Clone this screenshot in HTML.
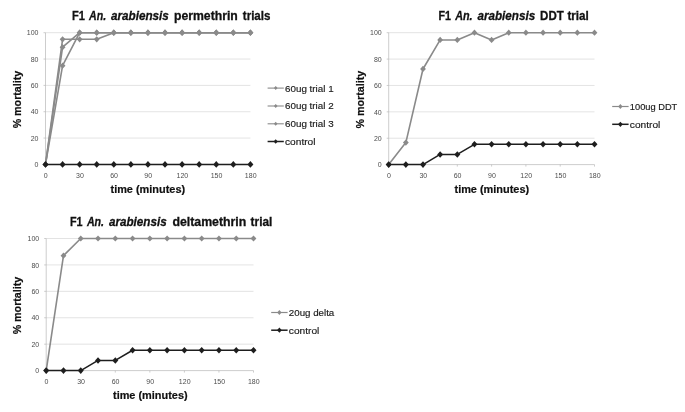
<!DOCTYPE html>
<html lang="en">
<head>
<meta charset="utf-8">
<title>F1 An. arabiensis insecticide trials</title>
<style>
html,body{margin:0;padding:0;background:#fff;}
body{width:685px;height:412px;overflow:hidden;}
svg{display:block;filter:blur(0.35px);}
text{font-family:"Liberation Sans",sans-serif;}
.tt{font-size:12.5px;font-weight:bold;fill:#111;stroke:#111;stroke-width:0.3px;}
.it{font-style:italic;}
.ax{font-size:11px;font-weight:bold;fill:#111;stroke:#111;stroke-width:0.2px;}
.tk{font-size:7px;fill:#4d4d4d;}
.lg{font-size:9px;fill:#1a1a1a;stroke:#1a1a1a;stroke-width:0.15px;}
</style>
</head>
<body>
<svg width="685" height="412" viewBox="0 0 685 412">
<rect width="685" height="412" fill="#fff"/>
<g id="chart-permethrin">
<line x1="45.5" x2="250.4" y1="138.06" y2="138.06" stroke="#d4d4d4" stroke-width="0.65"/>
<line x1="45.5" x2="250.4" y1="111.72" y2="111.72" stroke="#d4d4d4" stroke-width="0.65"/>
<line x1="45.5" x2="250.4" y1="85.38" y2="85.38" stroke="#d4d4d4" stroke-width="0.65"/>
<line x1="45.5" x2="250.4" y1="59.04" y2="59.04" stroke="#d4d4d4" stroke-width="0.65"/>
<line x1="45.5" x2="250.4" y1="32.7" y2="32.7" stroke="#d4d4d4" stroke-width="0.65"/>
<line x1="45.5" x2="45.5" y1="32.7" y2="164.4" stroke="#b8b8b8" stroke-width="0.7"/>
<line x1="43.5" x2="250.4" y1="164.4" y2="164.4" stroke="#b8b8b8" stroke-width="0.7"/>
<line x1="43.5" x2="45.5" y1="164.4" y2="164.4" stroke="#b8b8b8" stroke-width="0.7"/>
<text class="tk" x="38.5" y="167.1" text-anchor="end">0</text>
<line x1="43.5" x2="45.5" y1="138.06" y2="138.06" stroke="#b8b8b8" stroke-width="0.7"/>
<text class="tk" x="38.5" y="140.76" text-anchor="end">20</text>
<line x1="43.5" x2="45.5" y1="111.72" y2="111.72" stroke="#b8b8b8" stroke-width="0.7"/>
<text class="tk" x="38.5" y="114.42" text-anchor="end">40</text>
<line x1="43.5" x2="45.5" y1="85.38" y2="85.38" stroke="#b8b8b8" stroke-width="0.7"/>
<text class="tk" x="38.5" y="88.08" text-anchor="end">60</text>
<line x1="43.5" x2="45.5" y1="59.04" y2="59.04" stroke="#b8b8b8" stroke-width="0.7"/>
<text class="tk" x="38.5" y="61.74" text-anchor="end">80</text>
<line x1="43.5" x2="45.5" y1="32.7" y2="32.7" stroke="#b8b8b8" stroke-width="0.7"/>
<text class="tk" x="38.5" y="35.4" text-anchor="end">100</text>
<line x1="45.5" x2="45.5" y1="164.4" y2="166.4" stroke="#b8b8b8" stroke-width="0.7"/>
<text class="tk" x="45.8" y="177.5" text-anchor="middle">0</text>
<line x1="79.65" x2="79.65" y1="164.4" y2="166.4" stroke="#b8b8b8" stroke-width="0.7"/>
<text class="tk" x="79.95" y="177.5" text-anchor="middle">30</text>
<line x1="113.8" x2="113.8" y1="164.4" y2="166.4" stroke="#b8b8b8" stroke-width="0.7"/>
<text class="tk" x="114.1" y="177.5" text-anchor="middle">60</text>
<line x1="147.95" x2="147.95" y1="164.4" y2="166.4" stroke="#b8b8b8" stroke-width="0.7"/>
<text class="tk" x="148.25" y="177.5" text-anchor="middle">90</text>
<line x1="182.1" x2="182.1" y1="164.4" y2="166.4" stroke="#b8b8b8" stroke-width="0.7"/>
<text class="tk" x="182.4" y="177.5" text-anchor="middle">120</text>
<line x1="216.25" x2="216.25" y1="164.4" y2="166.4" stroke="#b8b8b8" stroke-width="0.7"/>
<text class="tk" x="216.55" y="177.5" text-anchor="middle">150</text>
<line x1="250.4" x2="250.4" y1="164.4" y2="166.4" stroke="#b8b8b8" stroke-width="0.7"/>
<text class="tk" x="250.7" y="177.5" text-anchor="middle">180</text>
<polyline points="45.5,164.4 62.58,65.63 79.65,32.7 96.72,32.7 113.8,32.7 130.88,32.7 147.95,32.7 165.02,32.7 182.1,32.7 199.17,32.7 216.25,32.7 233.32,32.7 250.4,32.7" fill="none" stroke="#8a8a8a" stroke-width="1.6" stroke-linejoin="round"/>
<path d="M45.5 161.3L48.4 164.4L45.5 167.5L42.6 164.4Z" fill="#8a8a8a"/>
<path d="M62.58 62.53L65.48 65.63L62.58 68.73L59.68 65.63Z" fill="#8a8a8a"/>
<path d="M79.65 29.6L82.55 32.7L79.65 35.8L76.75 32.7Z" fill="#8a8a8a"/>
<path d="M96.72 29.6L99.62 32.7L96.72 35.8L93.82 32.7Z" fill="#8a8a8a"/>
<path d="M113.8 29.6L116.7 32.7L113.8 35.8L110.9 32.7Z" fill="#8a8a8a"/>
<path d="M130.88 29.6L133.78 32.7L130.88 35.8L127.97 32.7Z" fill="#8a8a8a"/>
<path d="M147.95 29.6L150.85 32.7L147.95 35.8L145.05 32.7Z" fill="#8a8a8a"/>
<path d="M165.02 29.6L167.92 32.7L165.02 35.8L162.12 32.7Z" fill="#8a8a8a"/>
<path d="M182.1 29.6L185 32.7L182.1 35.8L179.2 32.7Z" fill="#8a8a8a"/>
<path d="M199.17 29.6L202.07 32.7L199.17 35.8L196.27 32.7Z" fill="#8a8a8a"/>
<path d="M216.25 29.6L219.15 32.7L216.25 35.8L213.35 32.7Z" fill="#8a8a8a"/>
<path d="M233.32 29.6L236.22 32.7L233.32 35.8L230.42 32.7Z" fill="#8a8a8a"/>
<path d="M250.4 29.6L253.3 32.7L250.4 35.8L247.5 32.7Z" fill="#8a8a8a"/>
<polyline points="45.5,164.4 62.58,39.29 79.65,39.29 96.72,39.29 113.8,32.7 130.88,32.7 147.95,32.7 165.02,32.7 182.1,32.7 199.17,32.7 216.25,32.7 233.32,32.7 250.4,32.7" fill="none" stroke="#8a8a8a" stroke-width="1.6" stroke-linejoin="round"/>
<path d="M45.5 161.3L48.4 164.4L45.5 167.5L42.6 164.4Z" fill="#8a8a8a"/>
<path d="M62.58 36.19L65.48 39.29L62.58 42.39L59.68 39.29Z" fill="#8a8a8a"/>
<path d="M79.65 36.19L82.55 39.29L79.65 42.39L76.75 39.29Z" fill="#8a8a8a"/>
<path d="M96.72 36.19L99.62 39.29L96.72 42.39L93.82 39.29Z" fill="#8a8a8a"/>
<path d="M113.8 29.6L116.7 32.7L113.8 35.8L110.9 32.7Z" fill="#8a8a8a"/>
<path d="M130.88 29.6L133.78 32.7L130.88 35.8L127.97 32.7Z" fill="#8a8a8a"/>
<path d="M147.95 29.6L150.85 32.7L147.95 35.8L145.05 32.7Z" fill="#8a8a8a"/>
<path d="M165.02 29.6L167.92 32.7L165.02 35.8L162.12 32.7Z" fill="#8a8a8a"/>
<path d="M182.1 29.6L185 32.7L182.1 35.8L179.2 32.7Z" fill="#8a8a8a"/>
<path d="M199.17 29.6L202.07 32.7L199.17 35.8L196.27 32.7Z" fill="#8a8a8a"/>
<path d="M216.25 29.6L219.15 32.7L216.25 35.8L213.35 32.7Z" fill="#8a8a8a"/>
<path d="M233.32 29.6L236.22 32.7L233.32 35.8L230.42 32.7Z" fill="#8a8a8a"/>
<path d="M250.4 29.6L253.3 32.7L250.4 35.8L247.5 32.7Z" fill="#8a8a8a"/>
<polyline points="45.5,164.4 62.58,47.19 79.65,32.7 96.72,32.7 113.8,32.7 130.88,32.7 147.95,32.7 165.02,32.7 182.1,32.7 199.17,32.7 216.25,32.7 233.32,32.7 250.4,32.7" fill="none" stroke="#8a8a8a" stroke-width="1.6" stroke-linejoin="round"/>
<path d="M45.5 161.3L48.4 164.4L45.5 167.5L42.6 164.4Z" fill="#8a8a8a"/>
<path d="M62.58 44.09L65.48 47.19L62.58 50.29L59.68 47.19Z" fill="#8a8a8a"/>
<path d="M79.65 29.6L82.55 32.7L79.65 35.8L76.75 32.7Z" fill="#8a8a8a"/>
<path d="M96.72 29.6L99.62 32.7L96.72 35.8L93.82 32.7Z" fill="#8a8a8a"/>
<path d="M113.8 29.6L116.7 32.7L113.8 35.8L110.9 32.7Z" fill="#8a8a8a"/>
<path d="M130.88 29.6L133.78 32.7L130.88 35.8L127.97 32.7Z" fill="#8a8a8a"/>
<path d="M147.95 29.6L150.85 32.7L147.95 35.8L145.05 32.7Z" fill="#8a8a8a"/>
<path d="M165.02 29.6L167.92 32.7L165.02 35.8L162.12 32.7Z" fill="#8a8a8a"/>
<path d="M182.1 29.6L185 32.7L182.1 35.8L179.2 32.7Z" fill="#8a8a8a"/>
<path d="M199.17 29.6L202.07 32.7L199.17 35.8L196.27 32.7Z" fill="#8a8a8a"/>
<path d="M216.25 29.6L219.15 32.7L216.25 35.8L213.35 32.7Z" fill="#8a8a8a"/>
<path d="M233.32 29.6L236.22 32.7L233.32 35.8L230.42 32.7Z" fill="#8a8a8a"/>
<path d="M250.4 29.6L253.3 32.7L250.4 35.8L247.5 32.7Z" fill="#8a8a8a"/>
<polyline points="45.5,164.4 62.58,164.4 79.65,164.4 96.72,164.4 113.8,164.4 130.88,164.4 147.95,164.4 165.02,164.4 182.1,164.4 199.17,164.4 216.25,164.4 233.32,164.4 250.4,164.4" fill="none" stroke="#1e1e1e" stroke-width="1.5" stroke-linejoin="round"/>
<path d="M45.5 161.1L48.5 164.4L45.5 167.7L42.5 164.4Z" fill="#1e1e1e"/>
<path d="M62.58 161.1L65.58 164.4L62.58 167.7L59.58 164.4Z" fill="#1e1e1e"/>
<path d="M79.65 161.1L82.65 164.4L79.65 167.7L76.65 164.4Z" fill="#1e1e1e"/>
<path d="M96.72 161.1L99.72 164.4L96.72 167.7L93.72 164.4Z" fill="#1e1e1e"/>
<path d="M113.8 161.1L116.8 164.4L113.8 167.7L110.8 164.4Z" fill="#1e1e1e"/>
<path d="M130.88 161.1L133.88 164.4L130.88 167.7L127.88 164.4Z" fill="#1e1e1e"/>
<path d="M147.95 161.1L150.95 164.4L147.95 167.7L144.95 164.4Z" fill="#1e1e1e"/>
<path d="M165.02 161.1L168.02 164.4L165.02 167.7L162.02 164.4Z" fill="#1e1e1e"/>
<path d="M182.1 161.1L185.1 164.4L182.1 167.7L179.1 164.4Z" fill="#1e1e1e"/>
<path d="M199.17 161.1L202.17 164.4L199.17 167.7L196.17 164.4Z" fill="#1e1e1e"/>
<path d="M216.25 161.1L219.25 164.4L216.25 167.7L213.25 164.4Z" fill="#1e1e1e"/>
<path d="M233.32 161.1L236.32 164.4L233.32 167.7L230.32 164.4Z" fill="#1e1e1e"/>
<path d="M250.4 161.1L253.4 164.4L250.4 167.7L247.4 164.4Z" fill="#1e1e1e"/>
<text class="tt" x="72.1" y="19.6" textLength="12.9" lengthAdjust="spacingAndGlyphs">F1</text>
<text class="tt it" x="89" y="19.6" textLength="17.1" lengthAdjust="spacingAndGlyphs">An.</text>
<text class="tt it" x="111" y="19.6" textLength="57.8" lengthAdjust="spacingAndGlyphs">arabiensis</text>
<text class="tt" x="174" y="19.6" textLength="63.8" lengthAdjust="spacingAndGlyphs">permethrin</text>
<text class="tt" x="242.8" y="19.6" textLength="27.6" lengthAdjust="spacingAndGlyphs">trials</text>
<text class="ax" x="110.5" y="193.1" textLength="74.6" lengthAdjust="spacingAndGlyphs">time (minutes)</text>
<text class="ax" transform="translate(21.4 128.35) rotate(-90)" textLength="57.6" lengthAdjust="spacingAndGlyphs">% mortality</text>
<line x1="267.6" x2="283.8" y1="88.1" y2="88.1" stroke="#8a8a8a" stroke-width="1.1"/>
<path d="M275.7 86.1L277.5 88.1L275.7 90.1L273.9 88.1Z" fill="#8a8a8a"/>
<text class="lg" x="285" y="91.5" textLength="48.6" lengthAdjust="spacingAndGlyphs">60ug trial 1</text>
<line x1="267.6" x2="283.8" y1="106" y2="106" stroke="#8a8a8a" stroke-width="1.1"/>
<path d="M275.7 104L277.5 106L275.7 108L273.9 106Z" fill="#8a8a8a"/>
<text class="lg" x="285" y="109.4" textLength="48.6" lengthAdjust="spacingAndGlyphs">60ug trial 2</text>
<line x1="267.6" x2="283.8" y1="123.8" y2="123.8" stroke="#8a8a8a" stroke-width="1.1"/>
<path d="M275.7 121.8L277.5 123.8L275.7 125.8L273.9 123.8Z" fill="#8a8a8a"/>
<text class="lg" x="285" y="127.2" textLength="48.6" lengthAdjust="spacingAndGlyphs">60ug trial 3</text>
<line x1="267.6" x2="283.8" y1="141.5" y2="141.5" stroke="#1e1e1e" stroke-width="1.5"/>
<path d="M275.7 139.2L277.8 141.5L275.7 143.8L273.6 141.5Z" fill="#1e1e1e"/>
<text class="lg" x="285" y="144.9" textLength="30.5" lengthAdjust="spacingAndGlyphs">control</text>
</g>
<g id="chart-ddt">
<line x1="388.7" x2="594.5" y1="138.22" y2="138.22" stroke="#d4d4d4" stroke-width="0.65"/>
<line x1="388.7" x2="594.5" y1="111.84" y2="111.84" stroke="#d4d4d4" stroke-width="0.65"/>
<line x1="388.7" x2="594.5" y1="85.46" y2="85.46" stroke="#d4d4d4" stroke-width="0.65"/>
<line x1="388.7" x2="594.5" y1="59.08" y2="59.08" stroke="#d4d4d4" stroke-width="0.65"/>
<line x1="388.7" x2="594.5" y1="32.7" y2="32.7" stroke="#d4d4d4" stroke-width="0.65"/>
<line x1="388.7" x2="388.7" y1="32.7" y2="164.6" stroke="#b8b8b8" stroke-width="0.7"/>
<line x1="386.7" x2="594.5" y1="164.6" y2="164.6" stroke="#b8b8b8" stroke-width="0.7"/>
<line x1="386.7" x2="388.7" y1="164.6" y2="164.6" stroke="#b8b8b8" stroke-width="0.7"/>
<text class="tk" x="381.7" y="167.3" text-anchor="end">0</text>
<line x1="386.7" x2="388.7" y1="138.22" y2="138.22" stroke="#b8b8b8" stroke-width="0.7"/>
<text class="tk" x="381.7" y="140.92" text-anchor="end">20</text>
<line x1="386.7" x2="388.7" y1="111.84" y2="111.84" stroke="#b8b8b8" stroke-width="0.7"/>
<text class="tk" x="381.7" y="114.54" text-anchor="end">40</text>
<line x1="386.7" x2="388.7" y1="85.46" y2="85.46" stroke="#b8b8b8" stroke-width="0.7"/>
<text class="tk" x="381.7" y="88.16" text-anchor="end">60</text>
<line x1="386.7" x2="388.7" y1="59.08" y2="59.08" stroke="#b8b8b8" stroke-width="0.7"/>
<text class="tk" x="381.7" y="61.78" text-anchor="end">80</text>
<line x1="386.7" x2="388.7" y1="32.7" y2="32.7" stroke="#b8b8b8" stroke-width="0.7"/>
<text class="tk" x="381.7" y="35.4" text-anchor="end">100</text>
<line x1="388.7" x2="388.7" y1="164.6" y2="166.6" stroke="#b8b8b8" stroke-width="0.7"/>
<text class="tk" x="389" y="177.7" text-anchor="middle">0</text>
<line x1="423" x2="423" y1="164.6" y2="166.6" stroke="#b8b8b8" stroke-width="0.7"/>
<text class="tk" x="423.3" y="177.7" text-anchor="middle">30</text>
<line x1="457.3" x2="457.3" y1="164.6" y2="166.6" stroke="#b8b8b8" stroke-width="0.7"/>
<text class="tk" x="457.6" y="177.7" text-anchor="middle">60</text>
<line x1="491.6" x2="491.6" y1="164.6" y2="166.6" stroke="#b8b8b8" stroke-width="0.7"/>
<text class="tk" x="491.9" y="177.7" text-anchor="middle">90</text>
<line x1="525.9" x2="525.9" y1="164.6" y2="166.6" stroke="#b8b8b8" stroke-width="0.7"/>
<text class="tk" x="526.2" y="177.7" text-anchor="middle">120</text>
<line x1="560.2" x2="560.2" y1="164.6" y2="166.6" stroke="#b8b8b8" stroke-width="0.7"/>
<text class="tk" x="560.5" y="177.7" text-anchor="middle">150</text>
<line x1="594.5" x2="594.5" y1="164.6" y2="166.6" stroke="#b8b8b8" stroke-width="0.7"/>
<text class="tk" x="594.8" y="177.7" text-anchor="middle">180</text>
<polyline points="388.7,164.6 405.85,142.57 423,68.97 440.15,39.95 457.3,39.95 474.45,32.7 491.6,39.95 508.75,32.7 525.9,32.7 543.05,32.7 560.2,32.7 577.35,32.7 594.5,32.7" fill="none" stroke="#8a8a8a" stroke-width="1.6" stroke-linejoin="round"/>
<path d="M388.7 161.5L391.6 164.6L388.7 167.7L385.8 164.6Z" fill="#8a8a8a"/>
<path d="M405.85 139.47L408.75 142.57L405.85 145.67L402.95 142.57Z" fill="#8a8a8a"/>
<path d="M423 65.87L425.9 68.97L423 72.07L420.1 68.97Z" fill="#8a8a8a"/>
<path d="M440.15 36.85L443.05 39.95L440.15 43.05L437.25 39.95Z" fill="#8a8a8a"/>
<path d="M457.3 36.85L460.2 39.95L457.3 43.05L454.4 39.95Z" fill="#8a8a8a"/>
<path d="M474.45 29.6L477.35 32.7L474.45 35.8L471.55 32.7Z" fill="#8a8a8a"/>
<path d="M491.6 36.85L494.5 39.95L491.6 43.05L488.7 39.95Z" fill="#8a8a8a"/>
<path d="M508.75 29.6L511.65 32.7L508.75 35.8L505.85 32.7Z" fill="#8a8a8a"/>
<path d="M525.9 29.6L528.8 32.7L525.9 35.8L523 32.7Z" fill="#8a8a8a"/>
<path d="M543.05 29.6L545.95 32.7L543.05 35.8L540.15 32.7Z" fill="#8a8a8a"/>
<path d="M560.2 29.6L563.1 32.7L560.2 35.8L557.3 32.7Z" fill="#8a8a8a"/>
<path d="M577.35 29.6L580.25 32.7L577.35 35.8L574.45 32.7Z" fill="#8a8a8a"/>
<path d="M594.5 29.6L597.4 32.7L594.5 35.8L591.6 32.7Z" fill="#8a8a8a"/>
<polyline points="388.7,164.6 405.85,164.6 423,164.6 440.15,154.44 457.3,154.44 474.45,144.29 491.6,144.29 508.75,144.29 525.9,144.29 543.05,144.29 560.2,144.29 577.35,144.29 594.5,144.29" fill="none" stroke="#1e1e1e" stroke-width="1.5" stroke-linejoin="round"/>
<path d="M388.7 161.3L391.7 164.6L388.7 167.9L385.7 164.6Z" fill="#1e1e1e"/>
<path d="M405.85 161.3L408.85 164.6L405.85 167.9L402.85 164.6Z" fill="#1e1e1e"/>
<path d="M423 161.3L426 164.6L423 167.9L420 164.6Z" fill="#1e1e1e"/>
<path d="M440.15 151.14L443.15 154.44L440.15 157.74L437.15 154.44Z" fill="#1e1e1e"/>
<path d="M457.3 151.14L460.3 154.44L457.3 157.74L454.3 154.44Z" fill="#1e1e1e"/>
<path d="M474.45 140.99L477.45 144.29L474.45 147.59L471.45 144.29Z" fill="#1e1e1e"/>
<path d="M491.6 140.99L494.6 144.29L491.6 147.59L488.6 144.29Z" fill="#1e1e1e"/>
<path d="M508.75 140.99L511.75 144.29L508.75 147.59L505.75 144.29Z" fill="#1e1e1e"/>
<path d="M525.9 140.99L528.9 144.29L525.9 147.59L522.9 144.29Z" fill="#1e1e1e"/>
<path d="M543.05 140.99L546.05 144.29L543.05 147.59L540.05 144.29Z" fill="#1e1e1e"/>
<path d="M560.2 140.99L563.2 144.29L560.2 147.59L557.2 144.29Z" fill="#1e1e1e"/>
<path d="M577.35 140.99L580.35 144.29L577.35 147.59L574.35 144.29Z" fill="#1e1e1e"/>
<path d="M594.5 140.99L597.5 144.29L594.5 147.59L591.5 144.29Z" fill="#1e1e1e"/>
<text class="tt" x="438.4" y="19.6" textLength="12.5" lengthAdjust="spacingAndGlyphs">F1</text>
<text class="tt it" x="455.2" y="19.6" textLength="17.4" lengthAdjust="spacingAndGlyphs">An.</text>
<text class="tt it" x="477.4" y="19.6" textLength="57.8" lengthAdjust="spacingAndGlyphs">arabiensis</text>
<text class="tt" x="540.1" y="19.6" textLength="23.7" lengthAdjust="spacingAndGlyphs">DDT</text>
<text class="tt" x="567.4" y="19.6" textLength="21.4" lengthAdjust="spacingAndGlyphs">trial</text>
<text class="ax" x="454.5" y="193.3" textLength="74.6" lengthAdjust="spacingAndGlyphs">time (minutes)</text>
<text class="ax" transform="translate(364.1 128.45) rotate(-90)" textLength="57.6" lengthAdjust="spacingAndGlyphs">% mortality</text>
<line x1="612.2" x2="628.6" y1="106.5" y2="106.5" stroke="#8a8a8a" stroke-width="1.2"/>
<path d="M620.4 104.1L622.6 106.5L620.4 108.9L618.2 106.5Z" fill="#8a8a8a"/>
<text class="lg" x="629.8" y="109.9" textLength="47.5" lengthAdjust="spacingAndGlyphs">100ug DDT</text>
<line x1="612.2" x2="628.6" y1="124.3" y2="124.3" stroke="#1e1e1e" stroke-width="1.5"/>
<path d="M620.4 121.7L622.8 124.3L620.4 126.9L618 124.3Z" fill="#1e1e1e"/>
<text class="lg" x="629.8" y="127.7" textLength="30.5" lengthAdjust="spacingAndGlyphs">control</text>
</g>
<g id="chart-deltamethrin">
<line x1="46.2" x2="253.5" y1="344.18" y2="344.18" stroke="#d4d4d4" stroke-width="0.65"/>
<line x1="46.2" x2="253.5" y1="317.76" y2="317.76" stroke="#d4d4d4" stroke-width="0.65"/>
<line x1="46.2" x2="253.5" y1="291.34" y2="291.34" stroke="#d4d4d4" stroke-width="0.65"/>
<line x1="46.2" x2="253.5" y1="264.92" y2="264.92" stroke="#d4d4d4" stroke-width="0.65"/>
<line x1="46.2" x2="253.5" y1="238.5" y2="238.5" stroke="#d4d4d4" stroke-width="0.65"/>
<line x1="46.2" x2="46.2" y1="238.5" y2="370.6" stroke="#b8b8b8" stroke-width="0.7"/>
<line x1="44.2" x2="253.5" y1="370.6" y2="370.6" stroke="#b8b8b8" stroke-width="0.7"/>
<line x1="44.2" x2="46.2" y1="370.6" y2="370.6" stroke="#b8b8b8" stroke-width="0.7"/>
<text class="tk" x="39.2" y="373.3" text-anchor="end">0</text>
<line x1="44.2" x2="46.2" y1="344.18" y2="344.18" stroke="#b8b8b8" stroke-width="0.7"/>
<text class="tk" x="39.2" y="346.88" text-anchor="end">20</text>
<line x1="44.2" x2="46.2" y1="317.76" y2="317.76" stroke="#b8b8b8" stroke-width="0.7"/>
<text class="tk" x="39.2" y="320.46" text-anchor="end">40</text>
<line x1="44.2" x2="46.2" y1="291.34" y2="291.34" stroke="#b8b8b8" stroke-width="0.7"/>
<text class="tk" x="39.2" y="294.04" text-anchor="end">60</text>
<line x1="44.2" x2="46.2" y1="264.92" y2="264.92" stroke="#b8b8b8" stroke-width="0.7"/>
<text class="tk" x="39.2" y="267.62" text-anchor="end">80</text>
<line x1="44.2" x2="46.2" y1="238.5" y2="238.5" stroke="#b8b8b8" stroke-width="0.7"/>
<text class="tk" x="39.2" y="241.2" text-anchor="end">100</text>
<line x1="46.2" x2="46.2" y1="370.6" y2="372.6" stroke="#b8b8b8" stroke-width="0.7"/>
<text class="tk" x="46.5" y="383.7" text-anchor="middle">0</text>
<line x1="80.75" x2="80.75" y1="370.6" y2="372.6" stroke="#b8b8b8" stroke-width="0.7"/>
<text class="tk" x="81.05" y="383.7" text-anchor="middle">30</text>
<line x1="115.3" x2="115.3" y1="370.6" y2="372.6" stroke="#b8b8b8" stroke-width="0.7"/>
<text class="tk" x="115.6" y="383.7" text-anchor="middle">60</text>
<line x1="149.85" x2="149.85" y1="370.6" y2="372.6" stroke="#b8b8b8" stroke-width="0.7"/>
<text class="tk" x="150.15" y="383.7" text-anchor="middle">90</text>
<line x1="184.4" x2="184.4" y1="370.6" y2="372.6" stroke="#b8b8b8" stroke-width="0.7"/>
<text class="tk" x="184.7" y="383.7" text-anchor="middle">120</text>
<line x1="218.95" x2="218.95" y1="370.6" y2="372.6" stroke="#b8b8b8" stroke-width="0.7"/>
<text class="tk" x="219.25" y="383.7" text-anchor="middle">150</text>
<line x1="253.5" x2="253.5" y1="370.6" y2="372.6" stroke="#b8b8b8" stroke-width="0.7"/>
<text class="tk" x="253.8" y="383.7" text-anchor="middle">180</text>
<polyline points="46.2,370.6 63.48,255.67 80.75,238.5 98.03,238.5 115.3,238.5 132.58,238.5 149.85,238.5 167.12,238.5 184.4,238.5 201.68,238.5 218.95,238.5 236.23,238.5 253.5,238.5" fill="none" stroke="#8a8a8a" stroke-width="1.6" stroke-linejoin="round"/>
<path d="M46.2 367.5L49.1 370.6L46.2 373.7L43.3 370.6Z" fill="#8a8a8a"/>
<path d="M63.48 252.57L66.38 255.67L63.48 258.77L60.58 255.67Z" fill="#8a8a8a"/>
<path d="M80.75 235.4L83.65 238.5L80.75 241.6L77.85 238.5Z" fill="#8a8a8a"/>
<path d="M98.03 235.4L100.93 238.5L98.03 241.6L95.12 238.5Z" fill="#8a8a8a"/>
<path d="M115.3 235.4L118.2 238.5L115.3 241.6L112.4 238.5Z" fill="#8a8a8a"/>
<path d="M132.58 235.4L135.48 238.5L132.58 241.6L129.68 238.5Z" fill="#8a8a8a"/>
<path d="M149.85 235.4L152.75 238.5L149.85 241.6L146.95 238.5Z" fill="#8a8a8a"/>
<path d="M167.12 235.4L170.03 238.5L167.12 241.6L164.22 238.5Z" fill="#8a8a8a"/>
<path d="M184.4 235.4L187.3 238.5L184.4 241.6L181.5 238.5Z" fill="#8a8a8a"/>
<path d="M201.68 235.4L204.58 238.5L201.68 241.6L198.78 238.5Z" fill="#8a8a8a"/>
<path d="M218.95 235.4L221.85 238.5L218.95 241.6L216.05 238.5Z" fill="#8a8a8a"/>
<path d="M236.23 235.4L239.13 238.5L236.23 241.6L233.33 238.5Z" fill="#8a8a8a"/>
<path d="M253.5 235.4L256.4 238.5L253.5 241.6L250.6 238.5Z" fill="#8a8a8a"/>
<polyline points="46.2,370.6 63.48,370.6 80.75,370.6 98.03,360.43 115.3,360.43 132.58,350.26 149.85,350.26 167.12,350.26 184.4,350.26 201.68,350.26 218.95,350.26 236.23,350.26 253.5,350.26" fill="none" stroke="#1e1e1e" stroke-width="1.5" stroke-linejoin="round"/>
<path d="M46.2 367.3L49.2 370.6L46.2 373.9L43.2 370.6Z" fill="#1e1e1e"/>
<path d="M63.48 367.3L66.48 370.6L63.48 373.9L60.48 370.6Z" fill="#1e1e1e"/>
<path d="M80.75 367.3L83.75 370.6L80.75 373.9L77.75 370.6Z" fill="#1e1e1e"/>
<path d="M98.03 357.13L101.03 360.43L98.03 363.73L95.03 360.43Z" fill="#1e1e1e"/>
<path d="M115.3 357.13L118.3 360.43L115.3 363.73L112.3 360.43Z" fill="#1e1e1e"/>
<path d="M132.58 346.96L135.58 350.26L132.58 353.56L129.58 350.26Z" fill="#1e1e1e"/>
<path d="M149.85 346.96L152.85 350.26L149.85 353.56L146.85 350.26Z" fill="#1e1e1e"/>
<path d="M167.12 346.96L170.12 350.26L167.12 353.56L164.12 350.26Z" fill="#1e1e1e"/>
<path d="M184.4 346.96L187.4 350.26L184.4 353.56L181.4 350.26Z" fill="#1e1e1e"/>
<path d="M201.68 346.96L204.68 350.26L201.68 353.56L198.68 350.26Z" fill="#1e1e1e"/>
<path d="M218.95 346.96L221.95 350.26L218.95 353.56L215.95 350.26Z" fill="#1e1e1e"/>
<path d="M236.23 346.96L239.23 350.26L236.23 353.56L233.23 350.26Z" fill="#1e1e1e"/>
<path d="M253.5 346.96L256.5 350.26L253.5 353.56L250.5 350.26Z" fill="#1e1e1e"/>
<text class="tt" x="70" y="225.5" textLength="12.6" lengthAdjust="spacingAndGlyphs">F1</text>
<text class="tt it" x="86.9" y="225.5" textLength="17.2" lengthAdjust="spacingAndGlyphs">An.</text>
<text class="tt it" x="108.9" y="225.5" textLength="57.8" lengthAdjust="spacingAndGlyphs">arabiensis</text>
<text class="tt" x="172.4" y="225.5" textLength="73.9" lengthAdjust="spacingAndGlyphs">deltamethrin</text>
<text class="tt" x="250.6" y="225.5" textLength="21.7" lengthAdjust="spacingAndGlyphs">trial</text>
<text class="ax" x="113" y="399.3" textLength="74.6" lengthAdjust="spacingAndGlyphs">time (minutes)</text>
<text class="ax" transform="translate(21.4 334.35) rotate(-90)" textLength="57.6" lengthAdjust="spacingAndGlyphs">% mortality</text>
<line x1="271.2" x2="287.6" y1="312.5" y2="312.5" stroke="#8a8a8a" stroke-width="1.2"/>
<path d="M279.4 310.1L281.6 312.5L279.4 314.9L277.2 312.5Z" fill="#8a8a8a"/>
<text class="lg" x="288.8" y="315.9" textLength="45.5" lengthAdjust="spacingAndGlyphs">20ug delta</text>
<line x1="271.2" x2="287.6" y1="330.2" y2="330.2" stroke="#1e1e1e" stroke-width="1.5"/>
<path d="M279.4 327.6L281.8 330.2L279.4 332.8L277 330.2Z" fill="#1e1e1e"/>
<text class="lg" x="288.8" y="333.6" textLength="30.5" lengthAdjust="spacingAndGlyphs">control</text>
</g>
</svg>
</body>
</html>
